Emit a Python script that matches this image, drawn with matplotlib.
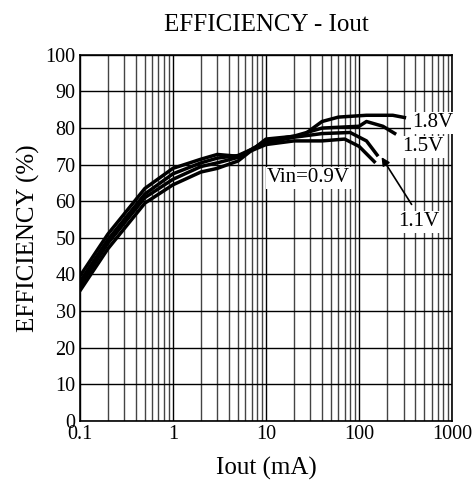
import numpy as np
import matplotlib
matplotlib.use("Agg")
import matplotlib.pyplot as plt
from matplotlib.ticker import FixedLocator, NullFormatter

plt.rcParams['font.family'] = ['Liberation Serif', 'DejaVu Serif']

# Iout (mA) and efficiency (%) for each input voltage
x_09 = [0.1, 0.2, 0.5, 1, 2, 3, 5, 10, 20, 40, 70, 100, 150]
y_09 = [39.5, 51, 63.5, 69, 71.5, 72.8, 72.3, 75.5, 76.5, 76.5, 77, 75, 70.5]

x_11 = [0.1, 0.2, 0.5, 1, 2, 3, 5, 10, 20, 40, 80, 120, 160]
y_11 = [38, 49.5, 62, 67.5, 70.5, 71.8, 72.5, 76, 77.5, 78.5, 78.8, 76.5, 72.3]

x_15 = [0.1, 0.2, 0.5, 1, 2, 3, 5, 10, 20, 40, 100, 120, 180, 250]
y_15 = [36.8, 48.5, 61, 66, 69.5, 70.5, 72, 76.5, 77.8, 80, 80.5, 81.8, 80.5, 78.3]

x_18 = [0.1, 0.2, 0.5, 1, 2, 3, 5, 10, 25, 40, 60, 120, 230, 320]
y_18 = [35.5, 47, 59.5, 64.5, 68, 69, 71, 77, 78, 81.8, 83, 83.5, 83.5, 82.8]

fig = plt.figure(figsize=(4.75, 4.9), dpi=100)
ax = fig.add_axes([0.168, 0.141, 0.784, 0.747])

for xs, ys in [(x_09, y_09), (x_11, y_11), (x_15, y_15), (x_18, y_18)]:
    ax.plot(xs, ys, color='black', lw=2.5, solid_capstyle='butt', zorder=3)

ax.set_xscale('log')
ax.set_xlim(0.1, 1000)
ax.set_ylim(0, 100)
ax.set_xticks([0.1, 1, 10, 100, 1000])
ax.set_xticklabels(['0.1', '1', '10', '100', '1000'])
ax.xaxis.set_minor_locator(FixedLocator(
    [m * 10.0 ** e for e in range(-1, 3) for m in range(2, 10)]))
ax.xaxis.set_minor_formatter(NullFormatter())
ax.set_yticks(range(0, 101, 10))
ax.tick_params(which='both', length=0, labelsize=14.5, pad=3)
ax.grid(which='major', color='black', lw=1.0)
ax.grid(which='minor', axis='x', color='#444444', lw=1.0)
for s in ax.spines.values():
    s.set_linewidth(1.2)

ax.set_title('EFFICIENCY - Iout', fontsize=18, pad=17)
ax.set_xlabel('Iout (mA)', fontsize=18, labelpad=9)
ax.set_ylabel('EFFICIENCY (%)', fontsize=18, labelpad=4)

box = dict(facecolor='white', edgecolor='none', pad=1)
ax.text(371, 81.4, '1.8V', fontsize=15, va='center', ha='left', bbox=box, zorder=4)
ax.text(289, 74.9, '1.5V', fontsize=15, va='center', ha='left', bbox=box, zorder=4)
ax.text(10.3, 66.4, 'Vin=0.9V', fontsize=15, va='center', ha='left', bbox=box, zorder=4)
ax.text(265, 54.4, '1.1V', fontsize=15, va='center', ha='left', bbox=box, zorder=4)
ax.annotate('', xy=(168, 72.7), xytext=(380, 58.5),
            arrowprops=dict(arrowstyle='-|>', color='black', lw=1.2,
                            mutation_scale=12), zorder=5)

fig.savefig('out.png', dpi=100)
